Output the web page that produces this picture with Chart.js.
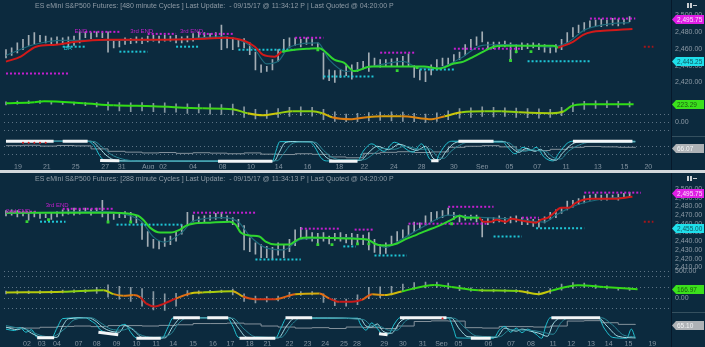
<!DOCTYPE html>
<html>
<head>
<meta charset="utf-8">
<title>ES eMini S&amp;P500 Futures cycles</title>
<script src="https://cdn.jsdelivr.net/npm/chart.js@4.4.1/dist/chart.umd.min.js"></script>
<style>
  html, body { margin:0; padding:0; width:705px; height:347px; overflow:hidden; background:#0c2a3e; }
  canvas { position:absolute; left:0; }
  #topChart { top:0; }
  #botChart { top:173px; }
  #divider { position:absolute; left:0; top:170px; width:705px; height:3px; background:#d3d8dc; }
</style>
</head>
<body>
<canvas id="topChart" width="705" height="170"></canvas>
<div id="divider"></div>
<canvas id="botChart" width="705" height="174"></canvas>
<script>
// ---------------- 480 minute panel ----------------
const topTitle = 'ES eMini S&P500 Futures: [480 minute Cycles ] Last Update:  - 09/15/17 @ 11:34:12 P | Last Quoted @ 04:20:00 P';
const topDateLabels = ['19','21','25','27','31','Aug','02','04','08','10','14','16','18','22','24','28','30','Sep','05','07','11','13','15','20'];
const topDateAt = [2.1,7.2,12.3,17.5,20.4,25.1,27.7,33,38.2,43.2,48.1,53.2,58.8,63.2,68.4,73.3,79,84,88.8,93.7,98.8,104.4,109.1,113.3];
const topPriceTicks = [2420,2440,2460,2480,2500];

const topLow = [2449,2452,2455,2459,2464,2466,2468,2467,2465,2466,
  2465,2462,2464,2467,2473,2472,2474,2473,2456,2461,
  2462,2465,2466,2467,2466,2468,2469,2467,2469,2469,
  2467,2467,2468,2469,2472,2473,2472,2473,2459,2461,
  2459,2462,2461,2453,2435,2432,2433,2435,2445,2456,
  2461,2464,2462,2465,2464,2459,2424,2422,2420,2426,
  2428,2424,2433,2436,2433,2439,2438,2440,2439,2440,
  2439,2440,2426,2423,2421,2429,2435,2440,2441,2444,
  2447,2452,2459,2464,2468,2459,2460,2461,2462,2445,
  2455,2459,2460,2461,2459,2456,2455,2456,2459,2467,
  2474,2479,2481,2485,2487,2486,2487,2488,2487,2489,
  2492];
const topHigh = [2459,2461,2467,2471,2476,2479,2476,2475,2473,2474,
  2473,2474,2475,2480,2480,2479,2480,2479,2480,2471,
  2469,2473,2472,2474,2473,2475,2476,2475,2476,2475,
  2476,2474,2475,2478,2480,2479,2478,2479,2488,2474,
  2473,2471,2472,2467,2456,2441,2439,2447,2459,2471,
  2473,2473,2471,2473,2472,2467,2455,2435,2434,2435,
  2440,2441,2444,2445,2455,2449,2447,2447,2448,2449,
  2451,2454,2440,2435,2433,2441,2447,2449,2449,2453,
  2456,2465,2471,2474,2480,2468,2468,2468,2469,2467,
  2465,2467,2466,2467,2466,2465,2462,2465,2471,2479,
  2485,2488,2491,2493,2494,2495,2494,2496,2495,2495,
  2498];
const topFast = [[0,2452],[5,2465],[10,2470],[20,2470],[30,2471],[38,2474],[42,2468],[44,2458],[46,2442],[48,2445],[50,2462],[55,2467],[57,2447],[60,2433],[64,2438],[70,2445],[73,2437],[76,2437],[80,2448],[84,2464],[88,2465],[96,2462],[99,2467],[102,2482],[106,2489],[110,2491]];
const topMidDown1 = [[0,2444.7],[2.6,2450.6],[5.3,2462.4],[8.8,2464.7],[12.3,2468.2],[17.5,2470.6],[26.3,2470.6],[35,2471.8],[38.6,2473],[42,2469.4],[43.9,2462.4],[45.3,2453],[47.4,2450.6],[48.6,2456.5]];
const topMidUp = [[48.6,2456.5],[50.9,2458.8],[53.5,2460],[55.3,2460.5],[56.1,2457.6],[57.9,2447],[59.6,2443.5],[61.4,2433.5],[64.4,2438.8],[68.4,2438.8],[73.7,2438.8],[76.3,2436.5],[79,2442.4],[80.7,2444.7],[82.5,2450.6],[84.2,2456.5],[86,2462.4],[87.7,2463.5],[96.5,2463.5],[97.4,2461.2]];
const topMidDown2 = [[97.4,2461.2],[100,2468.2],[101.8,2476.5],[103.5,2480],[105.3,2481.2],[110.5,2483.5]];
const topResistance = [[0,11,2430.6],[14,20,2480],[25,30,2477.6],[34,40,2477.6],[51,56,2473],[66,72,2455.3],[79,91,2460],[103,111,2495.75]];
const topSupport = [[10,14,2462.4],[20,25,2456.5],[30,34,2462.4],[41,51,2458.8],[56,65,2427],[73,79,2435.3],[92,103,2445.25]];
const topProjection = [112.5,114.2,2462.4];
const topMarkers = [[55,2458.8],[69,2434],[72.5,2437.6],[89,2446],[90,2456.5],[92.6,2456.5]];
const topNotes = [[12.1,2481,'END'],[21.9,2481,'3rd END'],[30.7,2481,'3rd END'],[10.2,2461,'BA']];

const topOsc = [[0,235],[5,248],[6.7,260],[13.7,235],[19,211],[26,198],[34.7,173],[40,161],[42.6,112],[45.3,87],[48,112],[50.5,136],[54,136],[55.8,112],[57.5,62],[61,37],[63.7,62],[66.3,74],[69.8,74],[75.1,37],[77.4,74],[80.4,124],[84.4,136],[87.4,136],[90.4,124],[96.1,112],[98.4,136],[99.7,198],[102,223],[110.7,223.29]];
const topOscLow = [215,225,230,235,225,220,215,205,190,150,140,130,140,130,120,125,110,115,100,95,90,60,40,45,60,70,80,75,30,10,0,5,15,20,15,10,0,-5,10,30,50,60,70,65,70,60,55,50,60,80,130,160,170,180,185,190];
const topOscHigh = [255,262,265,270,260,255,250,245,245,250,245,240,245,235,240,230,230,225,230,220,225,190,160,150,170,185,190,185,160,130,100,110,120,125,130,125,110,100,115,140,170,180,190,185,180,175,170,165,160,185,240,260,265,265,260,255];

const topCycleLead = [[0,100],[14.4,100],[15.5,80],[16.5,30],[17.5,2],[47,0],[47.6,50],[48.3,98],[53.5,98],[54.5,70],[55.5,20],[56.5,2],[62,2],[63,50],[64.5,87],[66.7,50],[68.5,95],[71.8,46],[73.3,87],[74.8,10],[75.8,2],[76.5,40],[77.8,90],[78.6,100],[87.5,100],[88.5,70],[89.8,38],[91.2,70],[92.6,54],[93.5,70],[95,20],[96.5,2],[97.5,40],[99,90],[100,100],[111,100]];
const topCycleMid = [[0,100],[15,100],[16.2,75],[17.5,35],[19,8],[21,2],[47.3,2],[48.2,45],[49.2,92],[50.5,98],[54,97],[55.3,60],[56.5,20],[58,5],[62.5,5],[64,45],[65.5,75],[67.5,58],[69.3,85],[72.5,55],[74,75],[75.5,12],[76.5,8],[77.5,45],[78.8,85],[80,97],[88,97],[89.3,65],[90.5,45],[91.8,65],[93.3,50],[94.3,60],[95.7,18],[97,6],[98.3,45],[99.8,85],[101.5,98],[111,98]];
const topCycleLag = [[0,99],[15.5,99],[17,70],[18.5,35],[20.5,12],[23,3],[47.8,3],[49,40],[50.3,85],[52,96],[54.5,95],[56,55],[57.5,20],[59.5,8],[63,8],[65,40],[66.5,65],[68.5,60],[70.3,75],[73.2,60],[74.8,62],[76.2,20],[77.2,15],[78.5,50],[80,80],[81.5,95],[88.5,94],[90.2,60],[91.5,50],[92.8,58],[94,52],[95.2,50],[96.5,20],[97.8,12],[99.2,50],[101,80],[103,95],[111,96]];
const topCycleExtremes = [[0,100,8.4,100],[10,100,14.4,100],[16.6,4,20,3],[37.4,1,47,1],[57,1,62,1],[75,3,76.3,3],[79.8,100,86,100],[100,100,110.5,100]];
const topCycleFlags = [[3,93],[4,93],[5,93],[6,93],[7,93]];
const topCycleClose = [78,80,76,79,77,62,50,46,42,44,40,43,41,38,42,36,34,38,35,22,18,40,45,48,44,47,70,75,78,72,56,54,60,70,74,72,70,66.07];

// ---------------- 288 minute panel ----------------
const botTitle = 'ES eMini S&P500 Futures: [288 minute Cycles ] Last Update:  - 09/15/17 @ 11:34:13 P | Last Quoted @ 04:20:00 P';
const botDateLabels = ['02','03','04','07','08','09','10','11','14','15','16','17','18','21','22','23','24','25','28','29','30','31','Sep','05','06','07','08','11','12','13','14','15','19'];
const botDateAt = [3.7,6.3,9,12.8,16,19.5,23,26.5,29.5,33,36.5,39.6,43,46.1,50,53.2,56.3,59.6,61.9,66.7,70,73.5,76.8,79.8,85.1,89.1,92.6,96.5,99.7,103.2,106.3,109.8,114];
const botPriceTicks = [2410,2420,2430,2440,2450,2460,2470,2480,2490,2500];

const botLow = [2469,2470,2468,2469,2464,2468,2466,2467,2465,2468,
  2469,2471,2470,2471,2473,2470,2473,2468,2462,2465,
  2467,2467,2462,2461,2442,2434,2432,2431,2434,2436,
  2440,2448,2459,2462,2461,2462,2464,2465,2466,2462,
  2459,2456,2430,2428,2425,2421,2421,2419,2424,2421,
  2428,2435,2442,2442,2440,2437,2440,2437,2441,2440,
  2438,2436,2438,2436,2430,2427,2425,2426,2435,2440,
  2443,2446,2451,2454,2458,2462,2465,2467,2470,2465,
  2462,2464,2464,2462,2445,2459,2461,2462,2460,2461,
  2462,2459,2459,2457,2456,2461,2465,2467,2472,2476,
  2479,2482,2484,2487,2489,2487,2487,2489,2487,2490,
  2491];
const botHigh = [2475,2476,2475,2474,2473,2474,2473,2471,2473,2474,
  2476,2477,2478,2477,2478,2477,2478,2487,2473,2471,
  2473,2474,2473,2469,2461,2451,2442,2440,2444,2446,
  2451,2459,2473,2470,2468,2469,2470,2472,2473,2469,
  2467,2465,2458,2444,2438,2436,2434,2433,2438,2436,
  2442,2453,2456,2453,2450,2449,2450,2446,2449,2450,
  2448,2449,2448,2447,2450,2442,2436,2438,2446,2451,
  2453,2458,2462,2461,2469,2473,2474,2475,2478,2473,
  2470,2470,2470,2470,2465,2467,2467,2469,2467,2468,
  2469,2467,2466,2465,2465,2468,2473,2476,2479,2486,
  2487,2489,2492,2493,2494,2493,2494,2493,2494,2495,
  2496];
const botFast = [[0,2472],[17,2474],[22,2469],[24,2462],[26,2445],[28,2439],[31,2450],[33,2463],[38,2467],[41,2462],[43,2446],[46,2432],[49,2430],[52,2442],[60,2444],[64,2441],[67,2433],[70,2443],[74,2458],[78,2470],[82,2468],[90,2465],[95,2462],[97,2470],[100,2480],[104,2487],[110,2491]];
const botMidUp = [[0,2472.7],[19,2472.7],[23.3,2469.2],[24.2,2464.7],[25.4,2455.6],[27.2,2449.9],[29,2449.9],[30.7,2453.3],[31.8,2457.9],[33,2460.1],[36,2461.3],[39.5,2462.4],[40.5,2459],[41.4,2449.9],[43,2446.5],[44.7,2445.3],[45.8,2439.6],[47.5,2436.2],[50,2436.2],[50.9,2439.6],[51.8,2443],[53.5,2444.2],[61,2443],[63.7,2441.9],[65.4,2436.2],[67.2,2435.1],[69,2437.4],[70.7,2443],[72.5,2447.6],[74.2,2452.2],[76,2456.7],[77.2,2460.1],[78.6,2464.7],[80,2469.2],[81.2,2467],[83.5,2467]];
const botMidDown = [[83.5,2467],[84.2,2462.4],[85.6,2462.4],[86.5,2464.7],[88.2,2462.4],[89.1,2465.8],[90.9,2463.6],[93.5,2461.3],[94.4,2464.7],[95.6,2467],[96.7,2472.7],[97.9,2478.4],[99.3,2478.4],[100.5,2484.1],[103.2,2488.6],[106.7,2488.6],[110.5,2490.9]];
const botResistance = [[0,5.5,2473.8],[10,19,2477.2],[33,44,2472.7],[52,59,2454.4],[61.5,65,2453.3],[71,85,2460.1],[78,86,2479.5],[91,94,2467],[102,112,2495.75]];
const botSupport = [[6,10.5,2462.4],[19.5,31,2459],[44,52,2419],[59.5,61.7,2434],[65,70.7,2423.7],[86,91,2445.3],[93.5,102,2455]];
const botProjection = [112.5,114.2,2462.4];
const botMarkers = [[3.7,2462.4],[7.5,2464.7],[18,2462],[22,2462],[55,2436],[57.5,2436],[62,2437],[64,2437],[78.6,2460]];
const botNotes = [[0,2474.5,'2nd END'],[7,2480.6,'3rd END']];

const botOsc = [[0,106],[10.2,117],[17.2,148],[19,74],[20.7,43],[22.5,56],[23.7,13],[24.7,-98],[26.3,-154],[27.7,-111],[30,-6],[32.5,87],[34.7,106],[40,130],[41.8,31],[44,-19],[47.5,-19],[51,74],[55.3,87],[57,-6],[58.8,-69],[61,-69],[62.8,-31],[64.6,74],[66.8,56],[69.8,124],[75.6,246],[78.6,209],[83.3,148],[90.4,135],[93.9,74],[96.1,135],[100.9,241],[105.4,209],[111.4,166.97]];
const botOscLow = [80,80,85,85,90,95,100,100,90,20,-20,-60,-150,-220,-230,-150,40,80,95,100,60,-60,-90,-70,-50,20,50,60,-80,-140,-150,-120,-10,0,60,120,160,190,200,170,140,130,120,115,110,105,80,60,90,150,180,200,180,170,150,145];
const botOscHigh = [130,135,135,140,140,150,155,160,200,250,220,200,180,120,80,90,140,135,145,150,170,80,40,30,40,110,120,120,80,-10,-20,60,200,210,220,260,290,300,300,280,240,190,170,165,160,160,140,120,180,260,290,280,250,230,200,190];

const botCycleLead = [[0,45],[1.5,38],[2.5,52],[3.5,30],[4.5,42],[5.5,5],[8,2],[9,50],[10,96],[14,100],[15,85],[16,65],[16.5,45],[17.5,30],[19,20],[20,58],[21,68],[22,30],[23,2],[27.5,0],[28.5,50],[29.5,100],[39,100],[40,60],[41,5],[47.5,0],[48.5,50],[49.5,98],[62,98],[62.5,70],[63.5,40],[64.5,75],[65.5,48],[66.5,20],[67.5,22],[68.5,70],[69.5,100],[78,100],[79,40],[79.5,2],[86,0],[87,40],[88,58],[89,30],[90,50],[91,28],[92,45],[93.5,20],[94.5,0],[95.2,60],[96,100],[104.5,100],[105.5,50],[107,5],[109.5,0],[110.3,45],[111,0]];
const botCycleMid = [[0,55],[2,42],[3,50],[4.5,25],[6.5,5],[9,5],[10,60],[11,95],[14.5,100],[16,80],[17,55],[18.5,35],[20,30],[21,62],[22.5,40],[24,5],[28,2],[29.5,60],[31,100],[39.5,100],[41,50],[42.5,5],[48,2],[49.5,60],[51,100],[62.5,95],[63.5,60],[64.5,55],[65.5,70],[66.5,35],[68,25],[69.5,80],[71,100],[78.5,100],[80,45],[81.5,8],[86.5,5],[88,50],[89,42],[90,35],[91,45],[92.5,35],[94,25],[95.5,10],[96.5,70],[98,100],[104.5,100],[106,60],[108,10],[111,2]];
const botCycleLag = [[0,62],[2.5,48],[4,40],[6,15],[8,8],[10.5,50],[12,90],[15,100],[17,70],[18.5,45],[20.5,40],[22,50],[23.5,20],[26,5],[29,20],[30.5,75],[32,100],[40,98],[42,45],[44,8],[48.5,5],[50.5,70],[52,100],[63,92],[64.5,62],[66,58],[67.5,40],[69,40],[70.5,85],[72,100],[79,98],[81,50],[83,12],[87,8],[89,42],[91,40],[93,38],[95,28],[96.5,20],[98,80],[99.5,100],[105,100],[107,65],[109,15],[111,8]];
const botCycleExtremes = [[5.5,3,8.5,3],[16.3,30,19.8,18],[23,1,27.3,1],[29.5,100,34.2,100],[35.5,100,39.2,100],[41.2,1,47.5,1],[49.3,100,54,100],[65.8,22,67.3,18],[69.5,100,77.7,100],[82,1,85.5,1],[96.2,100,104.8,100]];
const botCycleFlags = [[77,97]];
const botCycleClose = [52,50,54,58,60,57,62,62,60,63,66,72,72,74,70,60,55,50,52,48,55,52,48,60,82,85,84,52,50,58,57,55,60,84,86,76,68,65.1];

// ---------------- drawing ----------------
const FONT = '"Liberation Sans", Arial, sans-serif';
Chart.defaults.font.family = FONT;
Chart.defaults.font.size = 7;

const fmt = v => v.toLocaleString('en-US', {minimumFractionDigits: 2, maximumFractionDigits: 2});
const pts = arr => arr.map(([x, y]) => ({x, y}));

// oscillator colour runs from red (weak) through orange and yellow to green (strong)
const oscStops = [[-50,[200,25,25]],[40,[225,110,20]],[100,[205,200,10]],[170,[60,215,25]],[260,[40,225,20]]];
function oscColor(v) {
  if (v <= oscStops[0][0]) return 'rgb(' + oscStops[0][1].join(',') + ')';
  for (let k = 1; k < oscStops.length; k++) {
    const [v1, c1] = oscStops[k];
    if (v <= v1) {
      const [v0, c0] = oscStops[k - 1];
      const t = (v - v0) / (v1 - v0);
      return 'rgb(' + c0.map((c, j) => Math.round(c + (c1[j] - c) * t)).join(',') + ')';
    }
  }
  return 'rgb(' + oscStops[oscStops.length - 1][1].join(',') + ')';
}

function segLine(a, b, v, color, axis, order) {
  return {type: 'line', yAxisID: axis, data: [{x: a, y: v}, {x: b, y: v}], borderColor: color,
          borderWidth: 2, borderDash: [2, 2], pointRadius: 0, order: order || 40};
}

const decor = {
  id: 'decor',
  afterDraw(chart, args, o) {
    const {ctx, chartArea: ca, scales} = chart;
    ctx.save();
    // axis strip separator and region rule
    ctx.fillStyle = '#06182a';
    ctx.fillRect(Math.round(ca.right), 0, 1, chart.height);
    ctx.fillStyle = '#35505f';
    ctx.fillRect(Math.round(ca.right) + 1, Math.round(scales.yC.top), chart.width - ca.right, 1);
    // header line
    ctx.font = '7px ' + FONT;
    ctx.fillStyle = '#8f9ba6';
    ctx.textBaseline = 'middle';
    ctx.textAlign = 'left';
    ctx.fillText(o.title, 35, 6);
    // cycle annotations
    ctx.font = '6px ' + FONT;
    o.notes.forEach(([x, y, t, c]) => {
      ctx.fillStyle = c;
      ctx.fillText(t, scales.x.getPixelForValue(x), scales.yP.getPixelForValue(y));
    });
    // value tags on the axis strip
    o.tags.forEach(t => {
      const y = Math.round(scales[t.axis].getPixelForValue(t.value)) + 0.5;
      const x0 = ca.right + 1;
      ctx.fillStyle = t.bg;
      ctx.beginPath();
      ctx.moveTo(x0, y);
      ctx.lineTo(x0 + 4, y - 4.5);
      ctx.lineTo(704, y - 4.5);
      ctx.lineTo(704, y + 4.5);
      ctx.lineTo(x0 + 4, y + 4.5);
      ctx.closePath();
      ctx.fill();
      ctx.fillStyle = t.fg;
      ctx.font = '6.5px ' + FONT;
      ctx.fillText(t.text, x0 + 5, y + 0.5);
    });
    // small pause icon
    ctx.fillStyle = '#c9ced2';
    ctx.fillRect(687, 3, 2, 5);
    ctx.fillRect(690, 3, 2, 5);
    ctx.fillRect(693, 5, 4, 1);
    ctx.restore();
  }
};

function panel(id, P) {
  const ds = [];
  // price bars
  ds.push({type: 'bar', yAxisID: 'yP', data: P.low.map((l, i) => ({x: i, y: [l, P.high[i]]})),
           backgroundColor: '#a3adb4', barThickness: 1, grouped: false, order: 90});
  ds.push({type: 'line', yAxisID: 'yP', data: pts(P.fast), borderColor: '#1e6a7b', borderWidth: 1.2,
           cubicInterpolationMode: 'monotone', pointRadius: 0, order: 80});
  P.resistance.forEach(([a, b, v]) => ds.push(segLine(a, b, v, '#c41fd0', 'yP')));
  P.support.forEach(([a, b, v]) => ds.push(segLine(a, b, v, '#1fc6d6', 'yP')));
  ds.push(segLine(P.projection[0], P.projection[1], P.projection[2], '#a4161a', 'yP'));
  P.midDown.forEach(run => ds.push({type: 'line', yAxisID: 'yP', data: pts(run), borderColor: '#d11a1a',
           borderWidth: 2, cubicInterpolationMode: 'monotone', pointRadius: 0, order: 20}));
  P.midUp.forEach(run => ds.push({type: 'line', yAxisID: 'yP', data: pts(run), borderColor: '#2fd62f',
           borderWidth: 2, cubicInterpolationMode: 'monotone', pointRadius: 0, order: 20}));
  ds.push({type: 'line', yAxisID: 'yP', showLine: false, data: pts(P.markers), pointStyle: 'rect',
           pointRadius: 2, backgroundColor: '#35d335', borderColor: '#35d335', borderWidth: 0, order: 10});
  // oscillator
  ds.push({type: 'bar', yAxisID: 'yI', data: P.oscLow.map((l, k) => ({x: 2 * k, y: [l, P.oscHigh[k]]})),
           backgroundColor: 'rgba(190,198,204,0.7)', barThickness: 1, grouped: false, order: 85});
  ds.push({type: 'line', yAxisID: 'yI', data: pts(P.osc), borderWidth: 2, borderColor: '#3c3',
           segment: {borderColor: c => oscColor((c.p0.parsed.y + c.p1.parsed.y) / 2)},
           cubicInterpolationMode: 'monotone', pointRadius: 0, order: 20});
  // cycle bundle
  ds.push({type: 'line', yAxisID: 'yC', data: P.cycleClose.map((v, k) => ({x: 3 * k, y: v})), stepped: true,
           borderColor: '#85929c', borderWidth: 1, pointRadius: 0, order: 75});
  [[P.cycleLag, '#2a8797'], [P.cycleMid, '#a7dde5'], [P.cycleLead, '#22c4d4']].forEach(([d, c]) =>
    ds.push({type: 'line', yAxisID: 'yC', data: pts(d), borderColor: c, borderWidth: 1,
             cubicInterpolationMode: 'monotone', pointRadius: 0, order: 60}));
  P.extremes.forEach(([a, va, b, vb]) => ds.push({type: 'line', yAxisID: 'yC', data: [{x: a, y: va}, {x: b, y: vb}],
           borderColor: '#f3f5f7', borderWidth: 3, pointRadius: 0, clip: 4, order: 30}));
  ds.push({type: 'line', yAxisID: 'yC', showLine: false, data: pts(P.flags), pointRadius: 1,
           backgroundColor: '#e02424', borderWidth: 0, order: 5});

  const axisTicks = {color: '#8d9aa6', padding: 4, autoSkip: false, font: {size: 7, family: FONT}};
  const yAxis = (extra) => Object.assign({
    type: 'linear', position: 'right', stack: 'right',
    border: {display: false, dash: [1, 3]},
    grid: {display: false, drawTicks: false},
    afterFit: s => { s.width = 34; }
  }, extra);

  return new Chart(document.getElementById(id), {
    type: 'bar',
    data: {datasets: ds},
    plugins: [decor],
    options: {
      responsive: false, animation: false, devicePixelRatio: 1,
      layout: {padding: {top: 10, left: 0, right: 0, bottom: 0}},
      plugins: {legend: {display: false}, tooltip: {enabled: false},
                decor: {title: P.title, notes: P.notes, tags: P.tags}},
      scales: {
        x: {type: 'linear', min: -0.35, max: 117.3, offset: false,
            grid: {display: false, drawTicks: false, offset: false}, border: {display: false},
            afterBuildTicks: s => { s.ticks = P.dateAt.map(value => ({value})); },
            ticks: {autoSkip: false, maxRotation: 0, padding: 1, color: '#8796a3', font: {size: 7, family: FONT},
                    callback: (v, i) => P.dateLabels[i]},
            afterFit: s => { s.height = 7; }},
        yP: yAxis({stackWeight: P.w[0], min: P.pRange[0], max: P.pRange[1],
            afterBuildTicks: s => { s.ticks = P.priceTicks.map(value => ({value})); },
            ticks: Object.assign({callback: v => fmt(v)}, axisTicks)}),
        yI: yAxis({stackWeight: P.w[1], min: P.iRange[0], max: P.iRange[1],
            grid: {display: true, drawTicks: false, color: '#5d7385'},
            afterBuildTicks: s => { s.ticks = P.oscGrid.map(value => ({value})); },
            ticks: Object.assign({callback: v => P.oscLabels.includes(v) ? fmt(v) : ''}, axisTicks)}),
        yC: yAxis({stackWeight: P.w[2], min: P.cRange[0], max: P.cRange[1],
            grid: {display: P.cycleGrid.length > 0, drawTicks: false, color: '#5d7385'},
            afterBuildTicks: s => { s.ticks = P.cycleGrid.map(value => ({value})); },
            ticks: Object.assign({callback: () => ''}, axisTicks)})
      }
    }
  });
}

const lastOf = a => a[a.length - 1];

panel('topChart', {
  title: topTitle, dateLabels: topDateLabels, dateAt: topDateAt, priceTicks: topPriceTicks,
  low: topLow, high: topHigh, fast: topFast,
  midDown: [topMidDown1, topMidDown2], midUp: [topMidUp],
  resistance: topResistance, support: topSupport, projection: topProjection, markers: topMarkers,
  notes: topNotes.map(n => n.concat([n[2] === 'BA' ? '#1fc6d6' : '#c41fd0'])),
  osc: topOsc, oscLow: topOscLow, oscHigh: topOscHigh, oscGrid: [-100, 0, 100], oscLabels: [0],
  cycleLead: topCycleLead, cycleMid: topCycleMid, cycleLag: topCycleLag, extremes: topCycleExtremes,
  flags: topCycleFlags, cycleClose: topCycleClose, cycleGrid: [35, 75],
  w: [80, 47, 26], pRange: [2411.8, 2505.9], iRange: [-173, 409], cRange: [-2, 126],
  tags: [
    {axis: 'yP', value: lastOf(topResistance)[2], text: fmt(lastOf(topResistance)[2]), bg: '#df1fe4', fg: '#fbe0fb'},
    {axis: 'yP', value: lastOf(topSupport)[2], text: fmt(lastOf(topSupport)[2]), bg: '#1fdfeb', fg: '#0c5560'},
    {axis: 'yI', value: lastOf(topOsc)[1], text: fmt(lastOf(topOsc)[1]), bg: '#3be01c', fg: '#1b5a10'},
    {axis: 'yC', value: lastOf(topCycleClose), text: fmt(lastOf(topCycleClose)), bg: '#aeb2b6', fg: '#f4f5f6'}
  ]
});

panel('botChart', {
  title: botTitle, dateLabels: botDateLabels, dateAt: botDateAt, priceTicks: botPriceTicks,
  low: botLow, high: botHigh, fast: botFast,
  midDown: [botMidDown], midUp: [botMidUp],
  resistance: botResistance, support: botSupport, projection: botProjection, markers: botMarkers,
  notes: botNotes.map(n => n.concat(['#c41fd0'])),
  osc: botOsc, oscLow: botOscLow, oscHigh: botOscHigh, oscGrid: [-200, 0, 200, 400, 500], oscLabels: [0, 500],
  cycleLead: botCycleLead, cycleMid: botCycleMid, cycleLag: botCycleLag, extremes: botCycleExtremes,
  flags: botCycleFlags, cycleClose: botCycleClose, cycleGrid: [],
  w: [87, 43, 27], pRange: [2407.7, 2506.8], iRange: [-259, 537], cRange: [-2, 128],
  tags: [
    {axis: 'yP', value: lastOf(botResistance)[2], text: fmt(lastOf(botResistance)[2]), bg: '#df1fe4', fg: '#fbe0fb'},
    {axis: 'yP', value: lastOf(botSupport)[2], text: fmt(lastOf(botSupport)[2]), bg: '#1fdfeb', fg: '#0c5560'},
    {axis: 'yI', value: lastOf(botOsc)[1], text: fmt(lastOf(botOsc)[1]), bg: '#3be01c', fg: '#1b5a10'},
    {axis: 'yC', value: lastOf(botCycleClose), text: fmt(lastOf(botCycleClose)), bg: '#aeb2b6', fg: '#f4f5f6'}
  ]
});
</script>
</body>
</html>
